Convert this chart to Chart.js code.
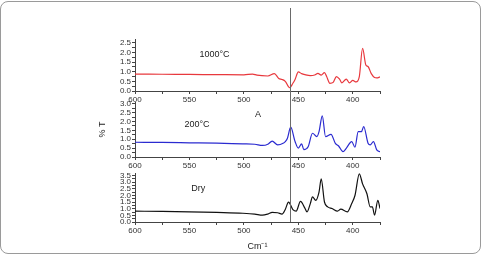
<!DOCTYPE html>
<html>
<head>
<meta charset="utf-8">
<script src="https://cdn.jsdelivr.net/npm/chart.js"></script>
<style>
  html, body { margin: 0; padding: 0; background: #fff; }
  #wrap { position: relative; width: 483px; height: 256px; overflow: hidden; font-family: "Liberation Sans", Arial, sans-serif; }
  #frame { position: absolute; left: 0; top: 1px; width: 479px; height: 251px; border: 1px solid #9a9a9a; border-radius: 8px; }
  canvas { position: absolute; left: 0; }
</style>
</head>
<body>
<div id="wrap">
  <div id="frame"></div>
  <canvas id="c1" width="483" height="110" style="top:0"></canvas>
  <canvas id="c2" width="483" height="80" style="top:95px"></canvas>
  <canvas id="c3" width="483" height="93" style="top:163px"></canvas>
</div>
<script>
// wavenumbers (cm-1) and transmittance for each sample
const wn1000 = [600, 575, 550, 525, 500, 492, 488, 478, 472, 468, 465, 462, 458, 455, 453, 450, 447, 444, 439, 435, 432, 429, 426, 424, 421, 418, 415, 412, 410, 406, 403, 400, 397, 394, 391, 388, 386, 383, 380, 378, 375];
const t1000  = [0.88, 0.87, 0.86, 0.85, 0.84, 0.88, 0.82, 0.78, 0.9, 0.65, 0.6, 0.5, 0.17, 0.4, 0.6, 0.99, 0.9, 0.85, 0.8, 0.83, 0.92, 0.82, 0.95, 0.75, 0.4, 0.45, 0.75, 0.6, 0.42, 0.62, 0.42, 0.55, 0.47, 0.75, 2.22, 1.35, 1.27, 0.9, 0.7, 0.68, 0.73];

const wn200 = [600, 575, 550, 525, 501, 490, 483, 478, 474, 469, 464, 462, 460, 457, 453, 450, 447, 445, 441, 437, 433, 431, 428, 425, 420, 416, 413, 409, 406, 401, 398, 395, 392, 390, 386, 384, 381, 378, 375];
const t200  = [0.83, 0.82, 0.8, 0.78, 0.74, 0.72, 0.65, 0.72, 0.9, 0.68, 0.77, 0.87, 1.06, 1.68, 0.87, 0.5, 0.74, 0.42, 0.58, 1.34, 1.15, 1.43, 2.32, 1.15, 1.28, 0.77, 0.62, 0.3, 0.49, 0.87, 0.55, 1.43, 1.43, 1.72, 0.78, 0.68, 0.87, 0.4, 0.3];

const wnDry = [600, 575, 550, 525, 501, 490, 483, 478, 474, 469, 465, 462, 459, 455, 452, 448, 444, 442, 439, 437, 434, 431, 429, 426, 423, 419, 414, 411, 405, 401, 398, 394, 391, 387, 384, 382, 380, 377, 375];
const tDry  = [0.82, 0.8, 0.77, 0.72, 0.66, 0.6, 0.52, 0.6, 0.72, 0.7, 0.6, 0.95, 1.5, 0.94, 0.82, 1.56, 1.05, 0.77, 1.39, 1.89, 1.64, 2.26, 3.25, 1.51, 1.14, 1.02, 0.82, 0.97, 0.77, 1.39, 2.0, 3.63, 2.88, 2.13, 1.14, 1.14, 0.52, 1.64, 1.02];

const xTicks = [600, 575, 550, 525, 500, 475, 450, 425, 400, 375];
const MARK = 458; // vertical marker line

const isStep = (v, q) => Math.abs(v / q - Math.round(v / q)) < 1e-6;
const FONT = '"Liberation Sans", Arial, sans-serif';

function panel(id, xs, ys, color, yMax, padTop, xHeight, lineTop, lineToEnd, notes, xTitle, yTitle) {
  const markLine = {
    id: 'markLine',
    afterDatasetsDraw(chart) {
      const ctx = chart.ctx;
      const x = Math.round(chart.scales.x.getPixelForValue(MARK)) + 0.5;
      ctx.save();
      ctx.strokeStyle = '#6a6a6a';
      ctx.lineWidth = 1;
      ctx.beginPath();
      ctx.moveTo(x, lineTop);
      ctx.lineTo(x, lineToEnd ? chart.height : chart.chartArea.bottom);
      ctx.stroke();
      ctx.restore();
    }
  };
  const labels = {
    id: 'notes',
    afterDraw(chart) {
      const ctx = chart.ctx;
      ctx.save();
      ctx.fillStyle = '#222';
      ctx.font = '9px ' + FONT;
      ctx.textAlign = 'center';
      ctx.textBaseline = 'middle';
      notes.forEach(n => {
        ctx.fillText(n.text, chart.scales.x.getPixelForValue(n.x), chart.scales.y.getPixelForValue(n.y));
      });
      ctx.restore();
    }
  };
  return new Chart(document.getElementById(id), {
    type: 'line',
    data: {
      datasets: [{
        data: xs.map((x, i) => ({ x: x, y: ys[i] })),
        borderColor: color,
        borderWidth: 1.2,
        pointRadius: 0,
        cubicInterpolationMode: 'monotone',
        fill: false
      }]
    },
    options: {
      responsive: false,
      animation: false,
      devicePixelRatio: 1,
      layout: { padding: { left: 93, right: 103, top: padTop, bottom: 0 } },
      plugins: { legend: { display: false }, tooltip: { enabled: false } },
      scales: {
        x: {
          type: 'linear', reverse: true, min: 375, max: 600,
          afterBuildTicks: s => { s.ticks = xTicks.map(v => ({ value: v })); },
          ticks: {
            autoSkip: false, maxRotation: 0, padding: 1,
            font: { size: 8, family: FONT }, color: '#333',
            callback: v => isStep(v, 50) ? String(v) : ''
          },
          grid: { drawOnChartArea: false, tickLength: 3, color: '#444' },
          border: { color: '#444' },
          title: xTitle
            ? { display: true, text: xTitle, color: '#222', font: { size: 9, family: FONT }, padding: { top: 2, bottom: 4 } }
            : { display: false },
          afterFit: s => { s.height = xHeight; }
        },
        y: {
          min: 0, max: yMax,
          afterBuildTicks: s => {
            const t = [];
            for (let k = 0; k * 0.25 <= yMax + 1e-9; k++) t.push({ value: k * 0.25 });
            s.ticks = t;
          },
          ticks: {
            autoSkip: false, padding: 1,
            font: { size: 8, family: FONT }, color: '#333',
            callback: v => isStep(v, 0.5) ? v.toFixed(1) : ''
          },
          grid: { drawOnChartArea: false, tickLength: 3, color: '#444' },
          border: { color: '#444' },
          title: yTitle
            ? { display: true, text: yTitle, color: '#222', font: { size: 9, family: FONT }, padding: { top: 4, bottom: 4 } }
            : { display: false },
          afterFit: s => { s.width = 42; }
        }
      }
    },
    plugins: [markLine, labels]
  });
}

panel('c1', wn1000, t1000, '#e8383d', 2.7, 39, 19, 8, true,
  [{ text: '1000°C', x: 527, y: 1.88 }], null, null);
panel('c2', wn200, t200, '#2b2bd0', 3.1, 7, 18, 0, true,
  [{ text: '200°C', x: 543, y: 1.81 }, { text: 'A', x: 487, y: 2.38 }], null, '% T');
panel('c3', wnDry, tDry, '#111111', 3.7, 10, 34, 0, false,
  [{ text: 'Dry', x: 542, y: 2.53 }], 'Cm⁻¹', null);
</script>
</body>
</html>
